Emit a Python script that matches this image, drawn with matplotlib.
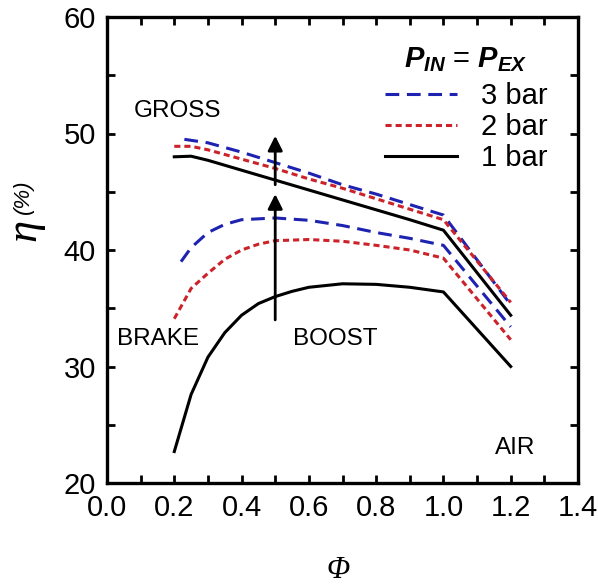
import matplotlib
matplotlib.use("Agg")
import matplotlib.pyplot as plt
from matplotlib.ticker import MultipleLocator, FormatStrFormatter
from matplotlib.lines import Line2D

plt.rcParams['font.family'] = ['Liberation Sans', 'DejaVu Sans']
plt.rcParams['mathtext.fontset'] = 'custom'
plt.rcParams['mathtext.it'] = 'Liberation Sans:bold:italic'
plt.rcParams['mathtext.rm'] = 'Liberation Sans:bold'

# ---- data ----
phi_gross_1 = [0.2, 0.25, 0.3, 0.4, 0.5, 0.6, 0.7, 0.8, 0.9, 1.0, 1.2]
eta_gross_1 = [48.0, 48.05, 47.7, 46.85, 46.0, 45.15, 44.3, 43.45, 42.6, 41.7, 34.4]
phi_gross_2 = [0.2, 0.25, 0.3, 0.4, 0.5, 0.6, 0.7, 0.8, 0.9, 1.0, 1.2]
eta_gross_2 = [48.9, 48.9, 48.6, 47.8, 47.0, 46.1, 45.3, 44.4, 43.5, 42.6, 35.5]
phi_gross_3 = [0.23, 0.3, 0.4, 0.5, 0.6, 0.7, 0.8, 0.9, 1.0, 1.2]
eta_gross_3 = [49.5, 49.2, 48.4, 47.5, 46.6, 45.6, 44.8, 43.9, 43.0, 35.3]

phi_brake_1 = [0.2, 0.25, 0.3, 0.35, 0.4, 0.45, 0.5, 0.55, 0.6, 0.7, 0.8, 0.9, 1.0, 1.2]
eta_brake_1 = [22.7, 27.6, 30.8, 32.9, 34.4, 35.4, 36.0, 36.45, 36.8, 37.1, 37.05, 36.8, 36.4, 30.0]
phi_brake_2 = [0.2, 0.25, 0.3, 0.35, 0.4, 0.45, 0.5, 0.6, 0.7, 0.8, 0.9, 1.0, 1.2]
eta_brake_2 = [34.1, 36.7, 38.0, 39.2, 40.0, 40.5, 40.8, 40.9, 40.75, 40.4, 40.0, 39.3, 32.3]
phi_brake_3 = [0.22, 0.25, 0.3, 0.35, 0.4, 0.5, 0.6, 0.7, 0.8, 0.9, 1.0, 1.2]
eta_brake_3 = [39.0, 40.2, 41.5, 42.2, 42.6, 42.75, 42.55, 42.1, 41.5, 41.0, 40.4, 33.4]

labels = ['3 bar', '2 bar', '1 bar']
legend_title = r'$P_{IN}$ = $P_{EX}$'

blue = '#1e22b0'
red = '#cc2229'
black = '#000000'

fig = plt.figure(figsize=(5.98, 5.87), dpi=100)
ax = fig.add_axes([107/598, 1-483/587, 471/598, 466/587])

lw = 2.2
style3 = dict(color=blue, lw=lw, dashes=(4.5, 2.5))
style2 = dict(color=red, lw=lw, dashes=(2.0, 1.3))
style1 = dict(color=black, lw=lw)

ax.plot(phi_gross_3, eta_gross_3, **style3)
ax.plot(phi_gross_2, eta_gross_2, **style2)
ax.plot(phi_gross_1, eta_gross_1, **style1)
ax.plot(phi_brake_3, eta_brake_3, **style3)
ax.plot(phi_brake_2, eta_brake_2, **style2)
ax.plot(phi_brake_1, eta_brake_1, **style1)

# arrows
ax.annotate('', xy=(0.5, 49.8), xytext=(0.5, 45.6),
            arrowprops=dict(arrowstyle='-|>', lw=2, color='black', mutation_scale=22,
                            shrinkA=0, shrinkB=0))
ax.annotate('', xy=(0.5, 44.8), xytext=(0.5, 34.0),
            arrowprops=dict(arrowstyle='-|>', lw=2, color='black', mutation_scale=22,
                            shrinkA=0, shrinkB=0))

ax.text(0.08, 51.9, 'GROSS', fontsize=17.5, va='center', ha='left')
ax.text(0.03, 32.4, 'BRAKE', fontsize=17.5, va='center', ha='left')
ax.text(0.553, 32.4, 'BOOST', fontsize=17.5, va='center', ha='left')
ax.text(1.153, 23.0, 'AIR', fontsize=17.5, va='center', ha='left')

ax.set_xlim(0.0, 1.4)
ax.set_ylim(20, 60)
ax.xaxis.set_major_locator(MultipleLocator(0.2))
ax.xaxis.set_minor_locator(MultipleLocator(0.1))
ax.yaxis.set_major_locator(MultipleLocator(10))
ax.yaxis.set_minor_locator(MultipleLocator(5))
ax.xaxis.set_major_formatter(FormatStrFormatter('%.1f'))
ax.yaxis.set_major_formatter(FormatStrFormatter('%d'))
ax.tick_params(which='both', direction='in', top=True, right=True, width=2, length=6,
               labelsize=21)
ax.tick_params(axis='x', which='major', pad=8)
ax.tick_params(axis='y', which='major', pad=8)
for s in ax.spines.values():
    s.set_linewidth(2.4)

handles = [Line2D([], [], **style3), Line2D([], [], **style2), Line2D([], [], **style1)]
leg = ax.legend(handles, labels, loc='upper right', bbox_to_anchor=(0.935, 0.94),
                frameon=False, fontsize=21, title=legend_title, title_fontsize=21,
                handlelength=2.5, handletextpad=0.8, labelspacing=0.1,
                borderpad=0, borderaxespad=0)
leg._legend_box.sep = 6

fig.text(24/598, 1-230/587, 'η', fontsize=32, family='Liberation Serif', style='italic',
         rotation=90, ha='center', va='center')
fig.text(23/598, 1-197/587, '(%)', fontsize=16, style='italic',
         rotation=90, ha='center', va='center')
fig.text(338/598, 1-570/587, 'Φ', fontsize=22, family='Liberation Serif', style='italic',
         ha='center', va='center')

fig.savefig('out.png', dpi=100)
